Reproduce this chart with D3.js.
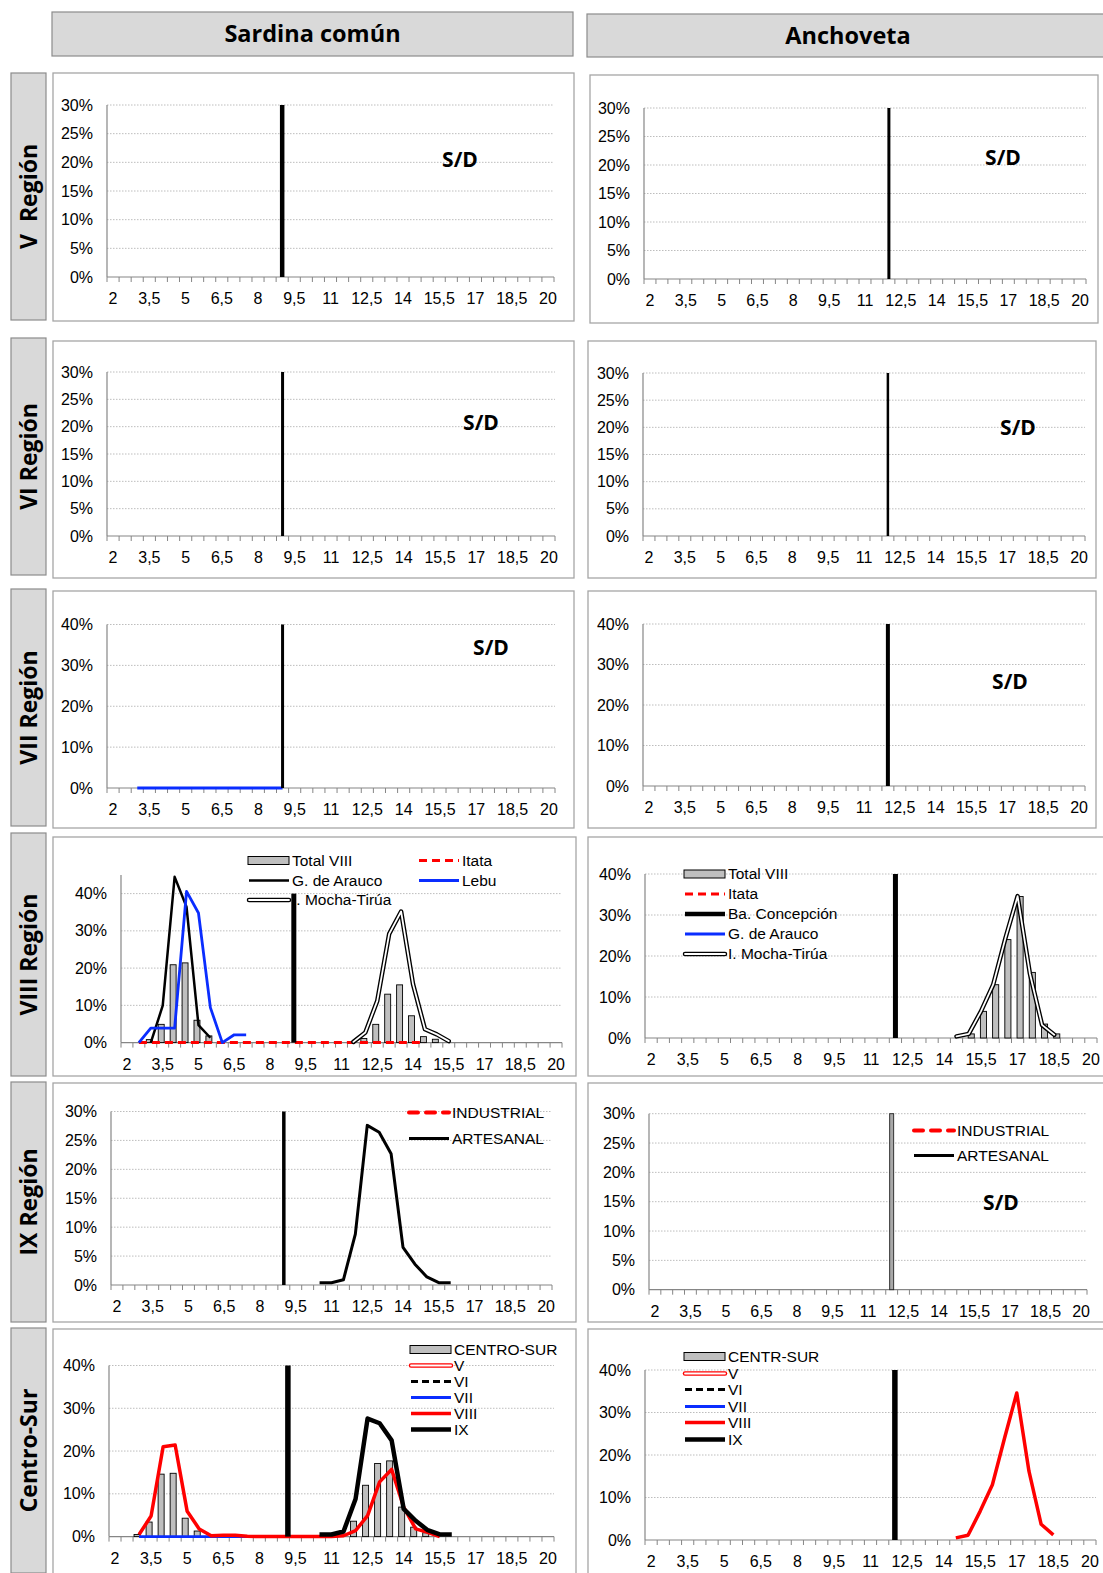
<!DOCTYPE html>
<html lang="es">
<head>
<meta charset="UTF-8">
<title>Distribución de tallas - Sardina común y Anchoveta</title>
<script src="https://d3js.org/d3.v7.min.js"></script>
<style>
  body { margin: 0; background: #fff; }
  text { font-family: "Liberation Sans", Arial, sans-serif; fill: #000; }
  .negrita { font-family: "Open Sans", sans-serif; font-weight: bold; }
</style>
</head>
<body>
<div id="chart"></div>
<script>
// eje x: tallas (cm), categorías cada 0,5
const tallas = [2,2.5,3,3.5,4,4.5,5,5.5,6,6.5,7,7.5,8,8.5,9,9.5,10,10.5,11,11.5,12,12.5,13,13.5,14,14.5,15,15.5,16,16.5,17,17.5,18,18.5,19,19.5,20];
const etiquetasX = [2,3.5,5,6.5,8,9.5,11,12.5,14,15.5,17,18.5,20];
const ticksY30 = [0,5,10,15,20,25,30];
const ticksY40 = [0,10,20,30,40];

// talla de referencia (barra vertical)
const tallaRefSardina = 9;
const tallaRefAnchoveta = 12;

const columnas = ["Sardina común", "Anchoveta"];
const regiones = ["V  Región", "VI Región", "VII Región", "VIII Región", "IX Región", "Centro-Sur"];

// ---- Sardina común (%)
const sardVII = [[3,0],[3.5,0],[4,0],[4.5,0],[5,0],[5.5,0],[6,0],[6.5,0],[7,0],[7.5,0],[8,0],[8.5,0],[9,0]];

const sardVIII_total = [[3,0.8],[3.5,4.9],[4,20.9],[4.5,21.4],[5,6.0],[5.5,1.8],
  [12,1.1],[12.5,4.9],[13,13.0],[13.5,15.5],[14,7.2],[14.5,1.6],[15,0.9]];
const sardVIII_itata = [[2.5,0],[3,0],[3.5,0],[4,0],[4.5,0],[5,0],[5.5,0],[6,0],[6.5,0],[7,0],[7.5,0],[8,0],[8.5,0],
  [9,0],[9.5,0],[10,0],[10.5,0],[11,0],[11.5,0],[12,0],[12.5,0],[13,0],[13.5,0],[14,0],[14.5,0]];
const sardVIII_arauco = [[3,0],[3.5,9.9],[4,44.5],[4.5,36.4],[5,4.7],[5.5,1.3]];
const sardVIII_lebu = [[2.5,0],[3,3.9],[3.5,3.9],[4,3.9],[4.5,40.6],[5,34.8],[5.5,9.4],[6,0],[6.5,2.1],[7,2.1]];
const sardVIII_mocha = [[11.5,0.2],[12,2.7],[12.5,11.2],[13,29.2],[13.5,35.2],[14,15.7],[14.5,3.6],[15,2.2],[15.5,0.4]];

const sardIX_artesanal = [[10.5,0.4],[11,0.4],[11.5,0.9],[12,8.8],[12.5,27.6],[13,26.4],[13.5,22.7],
  [14,6.5],[14.5,3.6],[15,1.4],[15.5,0.4],[16,0.4]];

const sardCS_total = [[3,0.5],[3.5,3.4],[4,14.6],[4.5,14.8],[5,4.3],[5.5,1.3],
  [12,3.6],[12.5,12.0],[13,17.1],[13.5,17.7],[14,6.9],[14.5,2.2],[15,0.9]];
const sardCS_VIII = [[3,0.5],[3.5,4.8],[4,21.0],[4.5,21.4],[5,5.9],[5.5,1.8],[6,0.2],[6.5,0.3],[7,0.3],[7.5,0.1],
  [8,0],[8.5,0],[9,0],[9.5,0],[10,0],[10.5,0],[11,0],[11.5,0.2],[12,1.4],[12.5,4.9],[13,12.8],[13.5,15.7],
  [14,6.9],[14.5,1.8],[15,1.0],[15.5,0]];
const sardCS_IX = [[10.5,0.5],[11,0.5],[11.5,1.2],[12,8.8],[12.5,27.6],[13,26.5],[13.5,22.5],
  [14,6.5],[14.5,3.7],[15,1.5],[15.5,0.5],[16,0.5]];

// ---- Anchoveta (%)
const anchVIII_total = [[15,1.0],[15.5,6.5],[16,13.0],[16.5,24.0],[17,34.5],[17.5,16.0],[18,3.4],[18.5,1.0]];
const anchVIII_mocha = [[14.5,0.4],[15,1.0],[15.5,6.5],[16,13.0],[16.5,24.3],[17,34.6],[17.5,15.8],[18,3.2],[18.5,0.8]];
const anchCS_VIII = [[14.5,0.5],[15,1.1],[15.5,6.8],[16,13.0],[16.5,24.0],[17,34.6],[17.5,16.2],[18,3.7],[18.5,1.2]];

// estilos de línea (capas)
const estilos = {
  rojoGuion:  [{c: "#ff0000", w: 3, dash: "8,5"}],
  rojoPunto:  [{c: "#ff0000", w: 4, dash: "9,8", cap: "round"}],
  negro:      [{c: "#000", w: 2.5}],
  negroMedio: [{c: "#000", w: 3}],
  negroGrueso:[{c: "#000", w: 4.5}],
  negroGuion: [{c: "#000", w: 3, dash: "7,4"}],
  azul:       [{c: "#0a2dff", w: 2.8}],
  rojoGrueso: [{c: "#ff0000", w: 3.5}],
  doble:      [{c: "#000", w: 4.5, cap: "round"}, {c: "#fff", w: 1.8, cap: "round"}],
  rojoDoble:  [{c: "#ff0000", w: 4.5, cap: "round"}, {c: "#fff", w: 1.8, cap: "round"}]
};

const clave = t => String(t).replace(".", ",");

const paneles = [
  // Sardina común
  { caja: [53, 73, 521, 248], plot: [107, 554, 105, 277], yticks: ticksY30, ref: tallaRefSardina, refAncho: 4.5, sd: [460, 160] },
  { caja: [53, 341, 521, 237], plot: [107, 555, 372, 536], yticks: ticksY30, ref: tallaRefSardina, refAncho: 3, sd: [481, 423] },
  { caja: [53, 591, 521, 237], plot: [107, 555, 624.5, 788], yticks: ticksY40, ref: tallaRefSardina, refAncho: 3, sd: [491, 648],
    series: [{tipo: "linea", estilo: "azul", datos: sardVII}] },
  { caja: [53, 837, 523, 239], plot: [121, 562, 893.6, 1042.6], yticks: ticksY40, ymax: 45, ref: tallaRefSardina, refAncho: 5, barDx: -1.5,
    series: [
      {tipo: "barra", datos: sardVIII_total},
      {tipo: "linea", estilo: "rojoGuion", datos: sardVIII_itata},
      {tipo: "linea", estilo: "negro", datos: sardVIII_arauco},
      {tipo: "linea", estilo: "azul", datos: sardVIII_lebu},
      {tipo: "linea", estilo: "doble", datos: sardVIII_mocha}],
    leyenda: [
      {t: "Total VIII", e: "barra", x: 248, y: 860.5},
      {t: "G. de Arauco", e: "negro", x: 248, y: 880.5},
      {t: "I. Mocha-Tirúa", e: "doble", x: 248, y: 900},
      {t: "Itata", e: "rojoGuion", x: 418, y: 860.5},
      {t: "Lebu", e: "azul", x: 418, y: 880.5}] },
  { caja: [53, 1083, 523, 239], plot: [111, 552, 1111.5, 1285], yticks: ticksY30, ref: tallaRefSardina, refAncho: 3.5,
    series: [{tipo: "linea", estilo: "negroMedio", datos: sardIX_artesanal}],
    leyenda: [
      {t: "INDUSTRIAL", e: "rojoPunto", x: 408, y: 1112.5},
      {t: "ARTESANAL", e: "negroMedio", x: 408, y: 1138.5}] },
  { caja: [53, 1329, 523, 250], plot: [109, 554, 1365.5, 1536.6], yticks: ticksY40, ref: tallaRefSardina, refAncho: 5.5, refDx: 4.5, barDx: -2,
    series: [
      {tipo: "barra", datos: sardCS_total},
      {tipo: "linea", estilo: "azul", datos: sardVII},
      {tipo: "linea", estilo: "rojoGrueso", datos: sardCS_VIII},
      {tipo: "linea", estilo: "negroGrueso", datos: sardCS_IX}],
    leyenda: [
      {t: "CENTRO-SUR", e: "barra", x: 410, y: 1349.5},
      {t: "V", e: "rojoDoble", x: 410, y: 1365.5},
      {t: "VI", e: "negroGuion", x: 410, y: 1381.5},
      {t: "VII", e: "azul", x: 410, y: 1397.5},
      {t: "VIII", e: "rojoGrueso", x: 410, y: 1413.5},
      {t: "IX", e: "negroGrueso", x: 410, y: 1429.5}] },
  // Anchoveta
  { caja: [590, 75, 508, 248], plot: [644, 1086, 108, 279], yticks: ticksY30, ref: tallaRefAnchoveta, refAncho: 3, sd: [1003, 158] },
  { caja: [588, 341, 508, 237], plot: [643, 1085, 373, 536], yticks: ticksY30, ref: tallaRefAnchoveta, refAncho: 2.5, sd: [1018, 428] },
  { caja: [588, 591, 508, 237], plot: [643, 1085, 624, 786], yticks: ticksY40, ref: tallaRefAnchoveta, refAncho: 4, sd: [1010, 682] },
  { caja: [588, 837, 520, 239], plot: [645, 1097, 874, 1038], yticks: ticksY40, ref: tallaRefAnchoveta, refAncho: 5, barDx: 2.5,
    series: [
      {tipo: "barra", datos: anchVIII_total},
      {tipo: "linea", estilo: "doble", datos: anchVIII_mocha}],
    leyenda: [
      {t: "Total VIII", e: "barra", x: 684, y: 874},
      {t: "Itata", e: "rojoGuion", x: 684, y: 894},
      {t: "Ba. Concepción", e: "negroGrueso", x: 684, y: 914},
      {t: "G. de Arauco", e: "azul", x: 684, y: 934},
      {t: "I. Mocha-Tirúa", e: "doble", x: 684, y: 954}] },
  { caja: [588, 1083, 520, 239], plot: [649, 1087, 1113.7, 1289.7], yticks: ticksY30, ref: tallaRefAnchoveta, refAncho: 4, refGris: true,
    sd: [1001, 1203],
    leyenda: [
      {t: "INDUSTRIAL", e: "rojoPunto", x: 913, y: 1130.5},
      {t: "ARTESANAL", e: "negroMedio", x: 913, y: 1155.5}] },
  { caja: [588, 1329, 520, 250], plot: [645, 1096, 1370, 1540], yticks: ticksY40, ref: tallaRefAnchoveta, refAncho: 5.5,
    series: [{tipo: "linea", estilo: "rojoGrueso", datos: anchCS_VIII}],
    leyenda: [
      {t: "CENTR-SUR", e: "barra", x: 684, y: 1356.5},
      {t: "V", e: "rojoDoble", x: 684, y: 1373.5},
      {t: "VI", e: "negroGuion", x: 684, y: 1389.5},
      {t: "VII", e: "azul", x: 684, y: 1406.5},
      {t: "VIII", e: "rojoGrueso", x: 684, y: 1422.5},
      {t: "IX", e: "negroGrueso", x: 684, y: 1439.5}] }
];

const svg = d3.select("#chart").append("svg")
  .attr("width", 1103)
  .attr("height", 1573);

// encabezados de columnas
const cajasCol = [[52, 12, 521, 44], [587, 14, 530, 43]];
columnas.forEach((c, i) => {
  const [x, y, w, h] = cajasCol[i];
  svg.append("rect").attr("x", x).attr("y", y).attr("width", w).attr("height", h)
    .attr("fill", "#d9d9d9").attr("stroke", "#8c8c8c").attr("stroke-width", 1.2);
  svg.append("text").attr("class", "negrita")
    .attr("x", i == 0 ? x + w / 2 : 848).attr("y", y + h / 2).attr("dy", "0.35em")
    .attr("text-anchor", "middle").style("font-size", "23.5px").text(c);
});

// etiquetas de filas
const cajasFila = [[73, 247], [338, 237], [589, 237], [833, 243], [1082, 240], [1328, 245]];
regiones.forEach((r, i) => {
  const [y, h] = cajasFila[i];
  svg.append("rect").attr("x", 11).attr("y", y).attr("width", 35).attr("height", h)
    .attr("fill", "#d9d9d9").attr("stroke", "#8c8c8c").attr("stroke-width", 1.2);
  svg.append("text").attr("class", "negrita")
    .attr("transform", `translate(29,${y + h / 2}) rotate(-90)`)
    .attr("dy", "0.35em").attr("text-anchor", "middle")
    .style("font-size", "23px").style("white-space", "pre").text(r);
});

function trazar(g, path, estilo) {
  estilos[estilo].forEach(s => {
    g.append("path").attr("d", path).attr("fill", "none")
      .attr("stroke", s.c).attr("stroke-width", s.w)
      .attr("stroke-dasharray", s.dash || null)
      .attr("stroke-linecap", s.cap || "butt")
      .attr("stroke-linejoin", "round");
  });
}

function dibujarPanel(p) {
  const g = svg.append("g");
  const [cx, cy, cw, ch] = p.caja;
  g.append("rect").attr("x", cx).attr("y", cy).attr("width", cw).attr("height", ch)
    .attr("fill", "#fff").attr("stroke", "#a6a6a6").attr("stroke-width", 1.3);

  const [x0, x1, yT, yB] = p.plot;
  const yTope = p.yticks[p.yticks.length - 1];
  const x = d3.scaleBand().domain(tallas.map(clave)).range([x0, x1]);
  const y = d3.scaleLinear().domain([0, yTope]).range([yB, yT]);
  const bw = x.bandwidth();
  const cxBand = t => x(clave(t)) + bw / 2;

  // grilla
  g.selectAll(".grid").data(p.yticks.filter(t => t > 0)).join("line")
    .attr("x1", x0).attr("x2", x1).attr("y1", d => y(d)).attr("y2", d => y(d))
    .attr("stroke", "#bdbdbd").attr("stroke-width", 1).attr("stroke-dasharray", "1.5,1.5");

  // eje y
  const ay = g.append("g").attr("transform", `translate(${x0},0)`)
    .call(d3.axisLeft(y).tickValues(p.yticks).tickFormat(d => d + "%").tickSize(0).tickPadding(14));
  ay.select(".domain").remove();
  ay.selectAll("text").style("font-size", "16px").style("font-family", '"Liberation Sans", Arial, sans-serif');
  g.append("line").attr("x1", x0).attr("x2", x0).attr("y1", yB).attr("y2", y(p.ymax || yTope))
    .attr("stroke", "#868686").attr("stroke-width", 1.2);

  // eje x
  const ax = g.append("g").attr("transform", `translate(0,${yB})`)
    .call(d3.axisBottom(x).tickValues(etiquetasX.map(clave)).tickSize(0).tickPadding(16));
  ax.select(".domain").remove();
  ax.selectAll("text").style("font-size", "16px").style("font-family", '"Liberation Sans", Arial, sans-serif');
  g.append("line").attr("x1", x0).attr("x2", x1).attr("y1", yB).attr("y2", yB)
    .attr("stroke", "#868686").attr("stroke-width", 1.2);
  const bordes = tallas.map(t => x(clave(t))).concat([x1]);
  g.selectAll(".tk").data(bordes).join("line")
    .attr("x1", d => d).attr("x2", d => d).attr("y1", yB).attr("y2", yB + 5)
    .attr("stroke", "#868686").attr("stroke-width", 1);

  const linea = d3.line().x(d => cxBand(d[0])).y(d => y(d[1]));

  (p.series || []).forEach(s => {
    if (s.tipo == "barra") {
      g.selectAll(null).data(s.datos).join("rect")
        .attr("x", d => cxBand(d[0]) - bw * 0.25 + (p.barDx || 0)).attr("width", bw * 0.5)
        .attr("y", d => y(d[1])).attr("height", d => yB - y(d[1]))
        .attr("fill", "#bfbfbf").attr("stroke", "#000").attr("stroke-width", 0.9);
    } else {
      trazar(g, linea(s.datos), s.estilo);
    }
  });

  // leyenda
  (p.leyenda || []).forEach(it => {
    if (it.e == "barra") {
      g.append("rect").attr("x", it.x).attr("y", it.y - 4).attr("width", 41).attr("height", 8)
        .attr("fill", "#bfbfbf").attr("stroke", "#000").attr("stroke-width", 1);
    } else {
      trazar(g, `M${it.x + 1},${it.y}H${it.x + 41}`, it.e);
    }
    g.append("text").attr("x", it.x + 44).attr("y", it.y).attr("dy", "0.35em")
      .style("font-size", "15.5px").text(it.t);
  });

  // barra de talla de referencia
  const xr = cxBand(p.ref) + (p.refDx || 0);
  const r = g.append("rect").attr("x", xr - p.refAncho / 2).attr("width", p.refAncho)
    .attr("y", y(yTope)).attr("height", yB - y(yTope));
  if (p.refGris) r.attr("fill", "#a8a8a8").attr("stroke", "#222").attr("stroke-width", 0.9);
  else r.attr("fill", "#000");

  if (p.sd) {
    g.append("text").attr("class", "negrita").attr("x", p.sd[0]).attr("y", p.sd[1])
      .attr("dy", "0.35em").attr("text-anchor", "middle").style("font-size", "21px").text("S/D");
  }
}

paneles.forEach(dibujarPanel);
</script>
</body>
</html>
